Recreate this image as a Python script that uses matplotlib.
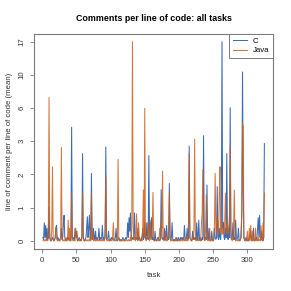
import numpy as np
import matplotlib
matplotlib.use("Agg")
import matplotlib.pyplot as plt

# mean comments per line of code, one value per task (tasks 1..325)
c_vals = [
    0.05, 0.02, 0.3, 0.05, 0.25, 0.02, 0.2, 0.02, 0.05, 0.64, 0.05, 0.02, 0.0, 0.02, 0.05, 0.02, 0.0, 0.02, 0.05, 0.22, 0.25, 0.02, 0.05, 0.02, 0.0,
    0.02, 0.05, 0.2, 0.02, 0.05, 0.3, 0.45, 0.05, 0.02, 0.0, 0.02, 0.05, 0.02, 0.05, 0.02, 0.0, 0.05, 4.2, 0.05, 0.02, 0.05, 0.02, 0.2, 0.05, 0.15,
    0.02, 0.0, 0.02, 0.05, 0.02, 0.0, 0.02, 0.05, 2.55, 0.05, 0.02, 0.0, 0.02, 0.05, 0.2, 0.42, 0.05, 0.2, 0.45, 0.05, 0.02, 1.66, 0.05, 0.02, 0.2,
    0.05, 0.02, 0.15, 0.02, 0.05, 0.02, 0.05, 0.2, 0.02, 0.05, 0.02, 0.05, 0.25, 0.02, 0.05, 0.02, 0.05, 2.9, 0.05, 0.02, 0.05, 0.15, 0.02, 0.0, 0.02,
    0.05, 0.02, 0.05, 0.02, 0.0, 0.02, 0.05, 0.2, 0.02, 0.0, 0.02, 0.05, 0.02, 0.0, 0.02, 0.0, 0.02, 0.05, 0.02, 0.0, 0.02, 0.05, 0.02, 0.05, 0.3,
    0.05, 0.4, 0.15, 0.5, 0.05, 0.02, 0.05, 0.02, 0.05, 0.5, 0.05, 0.02, 0.05, 0.02, 0.2, 0.02, 0.05, 0.02, 0.0, 0.02, 0.05, 0.2, 0.02, 0.05, 0.3,
    0.05, 0.02, 0.3, 0.05, 0.02, 2.45, 0.05, 0.3, 0.05, 0.4, 0.02, 0.05, 0.02, 0.0, 0.15, 0.02, 0.0, 0.02, 0.05, 0.05, 0.02, 0.0, 0.02, 1.1, 0.05,
    0.02, 0.05, 0.02, 0.2, 0.02, 0.05, 0.25, 0.02, 0.05, 0.02, 1.3, 0.05, 0.02, 0.05, 0.3, 0.02, 0.0, 0.02, 0.0, 0.02, 0.05, 0.0, 0.02, 0.05, 0.02,
    0.0, 0.05, 0.02, 0.05, 0.02, 0.05, 0.02, 0.25, 0.05, 0.02, 0.05, 0.2, 0.02, 0.05, 2.95, 0.05, 0.02, 0.0, 0.02, 0.15, 0.02, 0.05, 0.02, 0.05, 0.02,
    0.3, 0.02, 0.05, 0.35, 0.02, 0.05, 0.02, 0.0, 0.05, 0.02, 3.6, 0.05, 0.02, 0.05, 0.02, 1.25, 0.05, 0.02, 0.2, 0.02, 0.0, 0.02, 0.15, 0.02, 0.0,
    0.02, 0.2, 0.05, 0.02, 0.05, 1.2, 0.05, 0.02, 0.2, 0.05, 0.02, 0.3, 17.0, 0.2, 0.3, 0.05, 0.02, 0.2, 0.05, 2.55, 0.05, 0.02, 0.2, 0.05, 5.9,
    0.05, 0.02, 0.05, 0.3, 0.02, 0.05, 0.02, 0.35, 0.05, 0.02, 0.05, 0.2, 0.02, 0.0, 0.02, 0.05, 0.5, 10.6, 1.2, 0.05, 0.02, 0.0, 0.05, 0.02, 0.0,
    0.02, 0.0, 0.02, 0.05, 0.15, 0.02, 0.0, 0.02, 0.2, 0.02, 0.0, 0.02, 0.05, 0.02, 0.2, 0.4, 0.05, 0.45, 0.05, 0.02, 0.15, 0.02, 0.0, 0.05, 3.1,
]
java_vals = [
    0, 0, 0, 0.02, 0, 0, 0.05, 0, 0.3, 7.0, 0.05, 0, 0, 0.2, 1.93, 0.02, 0, 0, 0.05, 0.2, 0.05, 0, 0, 0.02, 0,
    0, 0.05, 2.87, 0.05, 0, 0, 0.02, 0, 0, 0.05, 0, 0.02, 0.35, 0, 0.2, 0.02, 0, 1.0, 0.02, 0, 0, 0.02, 0, 0.2, 0.05,
    0.15, 0, 0.02, 0, 0, 0.02, 0, 0.05, 1.0, 0.02, 0, 0, 0, 0.02, 0, 0, 0.02, 0, 0, 0.05, 0, 1.0, 0.02, 0.15, 0,
    0, 0.02, 0, 0, 0.05, 0, 0, 0.02, 0, 0, 0.02, 0, 0, 0.02, 0, 0, 0.2, 1.57, 0.02, 0, 0, 0.02, 0, 0, 0.02,
    0, 0, 0.05, 0.3, 0.05, 0, 0, 0.02, 0, 0.05, 2.26, 0.02, 0, 0, 0.02, 0, 0, 0, 0.02, 0, 0, 0, 0.02, 0, 0,
    0.02, 0, 0, 0.05, 0, 0.2, 17.0, 0.3, 0.02, 0.05, 0, 0.02, 0.48, 0.05, 0, 0.3, 0.02, 0, 0, 0.05, 0, 0.2, 1.09, 0.05, 5.84,
    0.05, 0, 0.02, 0.05, 0.3, 0.2, 0, 0.35, 0.02, 0.05, 0.2, 1.02, 0.05, 0, 0, 0.02, 0, 0, 0.02, 0, 0.05, 0.2, 0.02, 0.3, 0.2,
    1.75, 0.05, 0, 0.02, 0.15, 0, 0.02, 0, 0.05, 0.2, 1.0, 0.05, 0, 0.02, 0, 0, 0.02, 0, 0, 0, 0.05, 0, 0, 0, 0.02,
    0, 0, 0, 0.02, 0, 0, 0.05, 0, 0.02, 0, 0, 0.05, 0, 0.3, 2.55, 0.05, 0.02, 0, 0, 0.05, 0.02, 0.2, 3.38, 0.05, 0,
    0.02, 0, 0.05, 0, 0.02, 0, 0.05, 0.3, 0.5, 1.82, 0.4, 0.05, 0, 0.2, 0.95, 0.05, 0, 0.02, 0, 0.2, 0, 0, 0.02, 0, 0,
    0.05, 0.3, 1.66, 0.2, 0.1, 0.4, 0.3, 0.1, 1.0, 1.93, 0.2, 0.1, 0.3, 0.1, 0.2, 0.1, 0.3, 1.0, 0.2, 0.1, 0.3, 0.1, 0.2, 0.5, 2.89,
    0.2, 0.05, 0, 0.05, 0.2, 1.09, 0.05, 0, 0.02, 0, 0, 0.02, 0, 0, 0.02, 0.2, 0.5, 4.5, 4.2, 0.05, 0, 0.02, 0, 0, 0.15,
    0, 0.02, 0.2, 0, 0.25, 0.02, 0, 0.15, 0, 0.02, 0, 0.2, 0, 0.02, 0, 0.05, 0, 0.02, 0, 0.25, 0.02, 0, 0.3, 0.05, 1.0,
]
tasks = np.arange(1, len(c_vals) + 1)
ytick_labels = ["0", "1", "2", "3", "6", "10", "17"]
xticks = [0, 50, 100, 150, 200, 250, 300]

plt.rcParams["font.family"] = ["Liberation Sans", "DejaVu Sans"]

fig = plt.figure(figsize=(2.91, 2.91), dpi=100)
ax = fig.add_axes([0.117, 0.145, 0.822, 0.739])

ax.plot(tasks, c_vals, color="#3A6DB8", lw=0.75, label="C")
ax.plot(tasks, java_vals, color="#CC5E18", lw=0.75, alpha=0.85, label="Java")

# log(1+y) axis, ticks evenly spaced in transformed units
ax.set_yscale("function", functions=(np.log1p, np.expm1))
step = np.log(18) / 6
tick_pos = np.expm1(step * np.arange(7))
ax.set_yticks(tick_pos)
ax.set_yticklabels(ytick_labels, rotation=90, va="center")
ax.set_ylim(np.expm1(-0.24 * step), np.expm1(6.24 * step))
ax.set_xlim(1 - 0.04 * 324, 325 + 0.04 * 324)
ax.set_xticks(xticks)

grey = "#7a7a7a"
fs = 5.6
for s in ax.spines.values():
    s.set_color(grey)
    s.set_linewidth(0.8)
ax.tick_params(colors=grey, labelcolor="#333333", labelsize=fs, length=3, width=0.6, pad=3)

ax.set_title("Comments per line of code: all tasks", fontsize=6.4, fontweight="bold", pad=9)
ax.set_xlabel("task", fontsize=fs, color="#333333", labelpad=6)
ax.set_ylabel("line of comment per line of code (mean)", fontsize=fs, color="#333333", labelpad=4)

leg = ax.legend(loc="upper right", borderaxespad=0, fancybox=False, framealpha=1,
                edgecolor=grey, fontsize=fs, handlelength=1.9, handletextpad=0.7,
                borderpad=0.5, labelspacing=0.25)
leg.get_frame().set_linewidth(0.7)

fig.savefig("out.png", dpi=100)
